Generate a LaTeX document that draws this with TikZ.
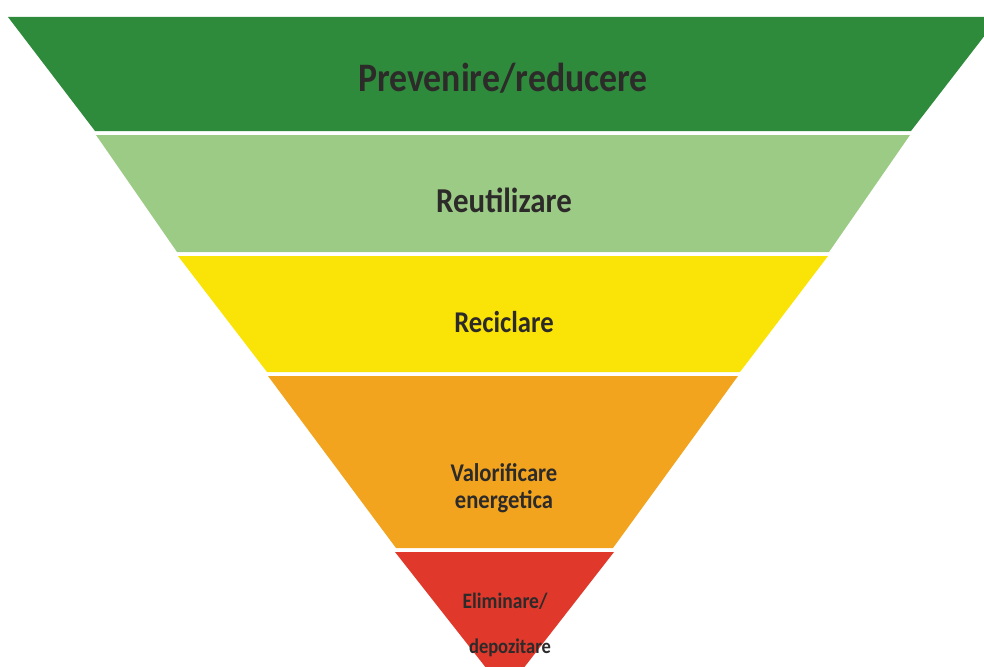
\documentclass[tikz,border=0pt]{standalone}
\usepackage{fontspec}
\setmainfont{Carlito}
\usepackage{graphicx}
\usepackage{tikz}
\definecolor{dkgreen}{RGB}{46,139,60}
\definecolor{ltgreen}{RGB}{156,203,134}
\definecolor{wyellow}{RGB}{250,228,8}
\definecolor{worange}{RGB}{243,164,30}
\definecolor{wred}{RGB}{224,56,42}
\definecolor{txt}{RGB}{45,42,42}
\newcommand{\tallt}[1]{\scalebox{1}[1.13]{#1}}

\begin{document}
\begin{tikzpicture}[x=1pt, y=-1pt,
  band/.style={draw=none},
  lvl/.style={anchor=base, text=txt, inner sep=0pt}]
  \useasboundingbox (0,0) rectangle (984,666);
  \clip (0,0) rectangle (984,666);

  % band corners, top left / top right / bottom right / bottom left
  \coordinate (a1) at (8,17);
  \coordinate (b1) at (999,17);
  \coordinate (c1) at (911,131);
  \coordinate (d1) at (95,131);

  \coordinate (a2) at (96,135);
  \coordinate (b2) at (910,135);
  \coordinate (c2) at (829,252);
  \coordinate (d2) at (177,252);

  \coordinate (a3) at (178,256);
  \coordinate (b3) at (828,256);
  \coordinate (c3) at (740,372);
  \coordinate (d3) at (267,372);

  \coordinate (a4) at (268,376);
  \coordinate (b4) at (738,376);
  \coordinate (c4) at (613,548);
  \coordinate (d4) at (396,548);

  \coordinate (a5) at (395,552);
  \coordinate (b5) at (614,552);
  \coordinate (c5) at (505,692);

  \fill[band, dkgreen] (a1)--(b1)--(c1)--(d1)--cycle;
  \fill[band, ltgreen] (a2)--(b2)--(c2)--(d2)--cycle;
  \fill[band, wyellow] (a3)--(b3)--(c3)--(d3)--cycle;
  \fill[band, worange] (a4)--(b4)--(c4)--(d4)--cycle;
  \fill[band, wred] (a5)--(b5)--(c5)--cycle;

  \node[lvl, font=\fontsize{35.8}{40}\selectfont\bfseries] (prev) at (503,92) {\tallt{Prevenire/reducere}};
  \node[lvl, font=\fontsize{30.9}{36}\selectfont\bfseries] (reut) at (504,212) {\tallt{Reutilizare}};
  \node[lvl, font=\fontsize{26.7}{32}\selectfont\bfseries] (recic) at (504,332) {\tallt{Reciclare}};
  \node[lvl, font=\fontsize{22.6}{27}\selectfont\bfseries] (valor) at (504,481) {\tallt{Valorificare}};
  \node[lvl, font=\fontsize{22.6}{27}\selectfont\bfseries] (energ) at (504,508) {\tallt{energetica}};
  \node[lvl, font=\fontsize{19.5}{23}\selectfont\bfseries] (elim) at (505,608) {\tallt{Eliminare/}};
  \node[lvl, font=\fontsize{18.5}{22}\selectfont\bfseries] (depoz) at (510,653) {\tallt{depozitare}};

\end{tikzpicture}
\end{document}
